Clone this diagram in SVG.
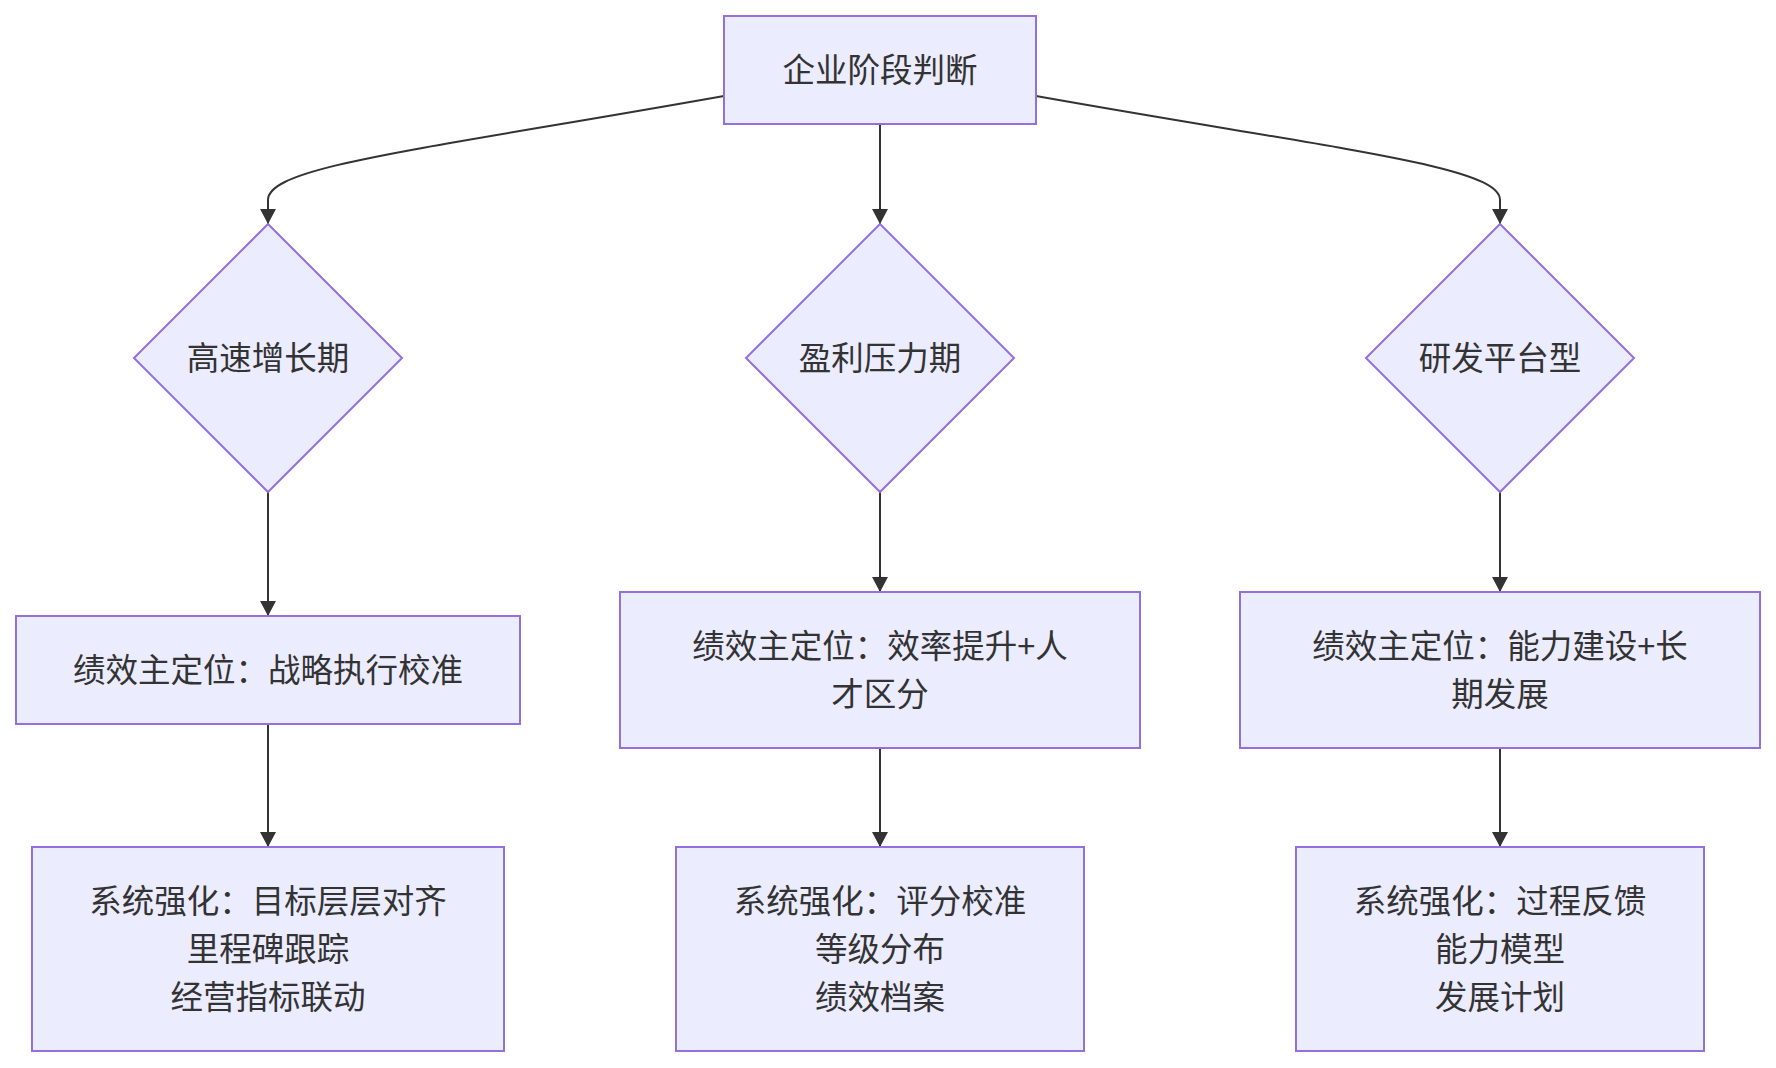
<svg xmlns="http://www.w3.org/2000/svg" width="1776" height="1068" viewBox="0 0 1776 1068">
<defs>
<marker id="arr" markerUnits="userSpaceOnUse" viewBox="0 0 15 16" refX="15" refY="8" markerWidth="15" markerHeight="16" orient="auto">
<path d="M0,0 L15,8 L0,16 z" fill="#333333"/>
</marker>
</defs>
<style>
.node rect, .node polygon { fill: #ECECFF; stroke: #9370DB; stroke-width: 2; }
.node text { font-family: "Noto Sans CJK SC", "Noto Sans", sans-serif; font-size: 32.5px; fill: #333333; text-anchor: middle; dominant-baseline: central; }
.edge { fill: none; stroke: #333333; stroke-width: 2; marker-end: url(#arr); }
</style>
<rect width="1776" height="1068" fill="#ffffff"/>
<g id="connectors">
<path class="edge" d="M724,96 C420,150 268,166 268,200 L268,224"/>
<path class="edge" d="M880,124 L880,224"/>
<path class="edge" d="M1036,96 C1340,150 1500,166 1500,200 L1500,224"/>
<path class="edge" d="M268,492 L268,616"/>
<path class="edge" d="M880,492 L880,592"/>
<path class="edge" d="M1500,492 L1500,592"/>
<path class="edge" d="M268,724 L268,847"/>
<path class="edge" d="M880,748 L880,847"/>
<path class="edge" d="M1500,748 L1500,847"/>
</g>
<g id="n_stage" class="node">
<rect x="724" y="16" width="312" height="108"/>
<text x="880" y="67">企业阶段判断</text>
</g>
<g id="n_growth" class="node">
<polygon points="268,224 402,358 268,492 134,358"/>
<text x="268" y="355">高速增长期</text>
</g>
<g id="n_profit" class="node">
<polygon points="880,224 1014,358 880,492 746,358"/>
<text x="880" y="355">盈利压力期</text>
</g>
<g id="n_rd" class="node">
<polygon points="1500,224 1634,358 1500,492 1366,358"/>
<text x="1500" y="355">研发平台型</text>
</g>
<g id="n_growth_pos" class="node">
<rect x="16" y="616" width="504" height="108"/>
<text x="268" y="667">绩效主定位：战略执行校准</text>
</g>
<g id="n_profit_pos" class="node">
<rect x="620" y="592" width="520" height="156"/>
<text x="880" y="643">绩效主定位：效率提升+人</text>
<text x="880" y="691">才区分</text>
</g>
<g id="n_rd_pos" class="node">
<rect x="1240" y="592" width="520" height="156"/>
<text x="1500" y="643">绩效主定位：能力建设+长</text>
<text x="1500" y="691">期发展</text>
</g>
<g id="n_growth_sys" class="node">
<rect x="32" y="847" width="472" height="204"/>
<text x="268" y="898">系统强化：目标层层对齐</text>
<text x="268" y="946">里程碑跟踪</text>
<text x="268" y="994">经营指标联动</text>
</g>
<g id="n_profit_sys" class="node">
<rect x="676" y="847" width="408" height="204"/>
<text x="880" y="898">系统强化：评分校准</text>
<text x="880" y="946">等级分布</text>
<text x="880" y="994">绩效档案</text>
</g>
<g id="n_rd_sys" class="node">
<rect x="1296" y="847" width="408" height="204"/>
<text x="1500" y="898">系统强化：过程反馈</text>
<text x="1500" y="946">能力模型</text>
<text x="1500" y="994">发展计划</text>
</g>
</svg>
